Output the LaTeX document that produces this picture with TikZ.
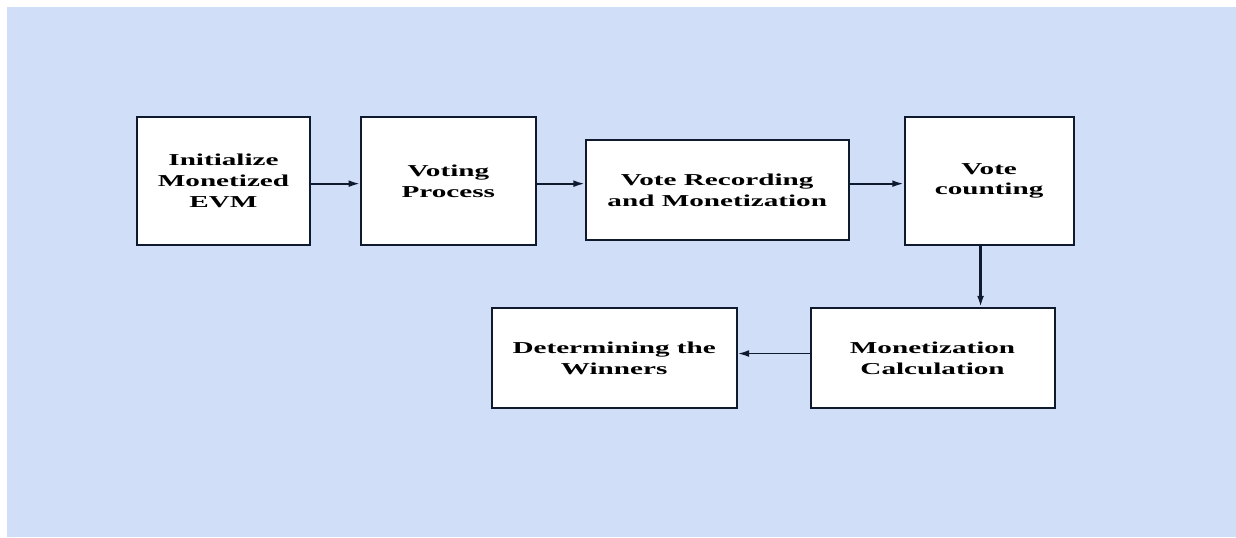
\documentclass[tikz,border=0pt]{standalone}
\usepackage{fontspec}
\setmainfont{Liberation Serif}
\newfontfamily\fuenteCaja{Liberation Serif}[FakeStretch=1.75]
\usetikzlibrary{arrows.meta, positioning}
\definecolor{azulfondo}{HTML}{D0DEF8}
\definecolor{tintaoscura}{HTML}{0F1A2E}
\tikzset{
  caja/.style={
    draw=tintaoscura, line width=1.4pt, fill=white,
    align=center, text=black, inner sep=2pt,
    font=\fuenteCaja\bfseries\fontsize{12.5}{15.5}\selectfont
  },
  cajaAlta/.style={caja, minimum height=96pt},
  cajaBaja/.style={caja, minimum height=75pt},
  flecha/.style={-{Latex[length=3mm, width=1.8mm]}, line width=1.4pt, tintaoscura},
}
\begin{document}
\begin{tikzpicture}[x=0.75pt, y=-0.75pt]
    \useasboundingbox (0,0) rectangle (1236,537);
    \fill[azulfondo] (7,7) rectangle (1236,537);

    % fila superior
    \node[cajaAlta, minimum width=129.75pt] (iniciar) at (223.5,181) {Initialize\\Monetized\\EVM};
    \node[cajaAlta, minimum width=131.25pt, right=36.75pt of iniciar] (votacion) {Voting\\Process};
    \node[cajaBaja, minimum width=197.25pt, right=36pt of votacion, yshift=-6.75pt] (registro) {Vote Recording\\and Monetization};
    \node[cajaAlta, minimum width=126.75pt, right=40.5pt of registro, yshift=6.75pt] (conteo) {Vote\\counting};

    % fila inferior
    \node[cajaBaja, minimum width=183pt, below=46pt of conteo, xshift=-42.4pt] (calculo) {Monetization\\Calculation};
    \node[cajaBaja, minimum width=183.75pt, left=54pt of calculo] (ganadores) {Determining the\\Winners};

    \draw[flecha] ([yshift=-2pt]iniciar.east) -- ([yshift=-2pt]votacion.west);
    \draw[flecha] ([yshift=-2pt]votacion.east) -- ([yshift=-2pt]votacion.east -| registro.west);
    \draw[flecha] ([yshift=-2pt]conteo.west -| registro.east) -- ([yshift=-2pt]conteo.west);
    \draw[flecha, line width=2pt] ([xshift=-6.4pt]conteo.south) -- ([xshift=-6.4pt]conteo.south |- calculo.north);
    \draw[flecha] ([yshift=3.5pt]calculo.west) -- ([yshift=3.5pt]ganadores.east);
\end{tikzpicture}
\end{document}
